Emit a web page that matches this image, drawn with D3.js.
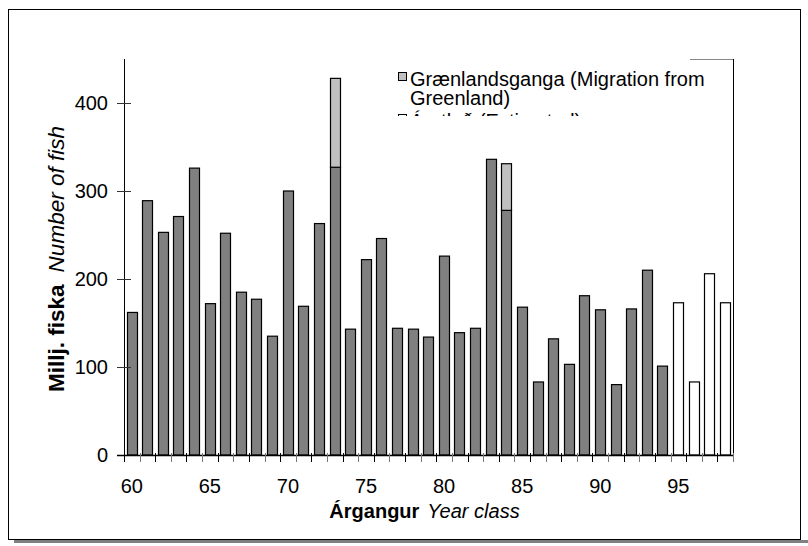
<!DOCTYPE html>
<html>
<head>
<meta charset="utf-8">
<script src="https://cdn.jsdelivr.net/npm/d3@7"></script>
<style>
  body { margin: 0; background: #fff; }
  text { font-family: Arial, "Liberation Sans", sans-serif; }
</style>
</head>
<body>
<div id="chart"></div>
<script>
const svgWidth = 808
const svgHeight = 546

// Year classes (árgangur)
const years = [60, 61, 62, 63, 64, 65, 66, 67, 68, 69, 70, 71, 72, 73, 74, 75, 76, 77, 78, 79,
  80, 81, 82, 83, 84, 85, 86, 87, 88, 89, 90, 91, 92, 93, 94, 95, 96, 97, 98]

// Millions of fish, home stock
const homeValues = [162, 289, 253, 271, 326, 172, 252, 185, 177, 135, 300, 169, 263, 327, 143, 222, 246, 144, 143, 134,
  226, 139, 144, 336, 278, 168, 83, 132, 103, 181, 165, 80, 166, 210, 101, 0, 0, 0, 0]

// Migration from Greenland, stacked on top
const greenlandValues = [0, 0, 0, 0, 0, 0, 0, 0, 0, 0, 0, 0, 0, 101, 0, 0, 0, 0, 0, 0,
  0, 0, 0, 0, 53, 0, 0, 0, 0, 0, 0, 0, 0, 0, 0, 0, 0, 0, 0]

// Estimated year classes
const estimatedValues = [0, 0, 0, 0, 0, 0, 0, 0, 0, 0, 0, 0, 0, 0, 0, 0, 0, 0, 0, 0,
  0, 0, 0, 0, 0, 0, 0, 0, 0, 0, 0, 0, 0, 0, 0, 173, 83, 206, 173]

const yTicks = [0, 100, 200, 300, 400]
const xTickLabels = [60, 65, 70, 75, 80, 85, 90, 95]

const legendItems = [
  { lines: ["Grænlandsganga (Migration from", "Greenland)"], fill: "#c0c0c0" },
  { lines: ["Áætlað (Estimated)"], fill: "#ffffff" }
]

let margin = { top: 59, left: 124, right: 75, bottom: 91 }
let width = svgWidth - margin.left - margin.right
let height = svgHeight - margin.top - margin.bottom

let svg = d3
  .select("#chart")
  .append("svg")
  .attr("width", svgWidth)
  .attr("height", svgHeight)

// outer chart frame with shadow
svg.append("rect")
  .attr("x", 14).attr("y", 540)
  .attr("width", 794).attr("height", 3)
  .attr("fill", "#808080")

svg.append("rect")
  .attr("x", 8.5).attr("y", 9.5)
  .attr("width", 792).attr("height", 530)
  .attr("fill", "none")
  .attr("stroke", "#000")

let chartGroup = svg
  .append("g")
  .attr("transform", `translate(${margin.left}, ${margin.top})`)

let x = d3.scaleBand()
  .domain(years)
  .range([0, width])
  .paddingInner(0.33)
  .paddingOuter(0.165)

let y = d3.scaleLinear()
  .domain([0, 450])
  .range([height, 0])

// plot frame (right + part of top)
chartGroup.append("line")
  .attr("x1", width + 0.5).attr("x2", width + 0.5)
  .attr("y1", 0).attr("y2", height + 7)
  .attr("stroke", "#000")

chartGroup.append("line")
  .attr("x1", width - 43).attr("x2", width)
  .attr("y1", 0.5).attr("y2", 0.5)
  .attr("stroke", "#888")

let rows = years.map((yr, i) => ({
  year: yr,
  home: homeValues[i],
  greenland: greenlandValues[i],
  estimated: estimatedValues[i]
}))

function drawBars(key, base, fill) {
  chartGroup.append("g")
    .selectAll("rect")
    .data(rows.filter(d => d[key] > 0))
    .enter()
    .append("rect")
    .attr("x", d => Math.round(x(d.year)) + 0.5)
    .attr("width", Math.round(x.bandwidth()))
    .attr("y", d => y(base(d) + d[key]))
    .attr("height", d => y(base(d)) - y(base(d) + d[key]))
    .attr("fill", fill)
    .attr("stroke", "#000")
    .attr("stroke-width", 1.2)
}

drawBars("home", d => 0, "#808080")
drawBars("greenland", d => d.home, "#c0c0c0")
drawBars("estimated", d => 0, "#ffffff")

// y axis
let leftAxis = d3.axisLeft(y)
  .tickValues(yTicks)
  .tickSize(0)
  .tickPadding(16)

let yAxis = chartGroup.append("g").call(leftAxis)
yAxis.select(".domain").remove()
yAxis.selectAll("text").attr("font-size", "20px").attr("fill", "#000")
  .attr("font-family", "Arial, 'Liberation Sans', sans-serif")

chartGroup.append("line")
  .attr("x1", 0.5).attr("x2", 0.5)
  .attr("y1", 0).attr("y2", height)
  .attr("stroke", "#000")

chartGroup.append("g")
  .selectAll("line")
  .data(yTicks)
  .enter()
  .append("line")
  .attr("x1", -7).attr("x2", 7)
  .attr("y1", d => Math.round(y(d)) + 0.5)
  .attr("y2", d => Math.round(y(d)) + 0.5)
  .attr("stroke", "#333")

// x axis
chartGroup.append("line")
  .attr("x1", -7).attr("x2", width)
  .attr("y1", height + 0.5).attr("y2", height + 0.5)
  .attr("stroke", "#000")
  .attr("stroke-width", 1.5)

let boundaries = years.map(yr => x(yr) - x.step() * x.paddingInner() / 2)
boundaries.push(width)

chartGroup.append("g")
  .selectAll("line")
  .data(boundaries)
  .enter()
  .append("line")
  .attr("x1", d => Math.round(d) + 0.5)
  .attr("x2", d => Math.round(d) + 0.5)
  .attr("y1", height - 2)
  .attr("y2", height + 7)
  .attr("stroke", (d, i) => i % 2 === 0 ? "#000" : "#777")

chartGroup.append("g")
  .selectAll("text")
  .data(xTickLabels)
  .enter()
  .append("text")
  .attr("x", d => x(d) + x.bandwidth() / 2)
  .attr("y", height + 38)
  .attr("text-anchor", "middle")
  .attr("font-size", "20px")
  .text(d => d)

// axis titles
let xTitle = chartGroup.append("text")
  .attr("x", width / 2 - 4)
  .attr("y", height + 63)
  .attr("text-anchor", "middle")
  .attr("font-size", "20px")
xTitle.append("tspan").attr("font-weight", "bold").text("Árgangur")
xTitle.append("tspan").attr("dx", 8).attr("font-style", "italic").text("Year class")

let yTitle = chartGroup.append("text")
  .attr("transform", `translate(${-60}, ${height / 2 + 2}) rotate(-90)`)
  .attr("text-anchor", "middle")
  .attr("font-size", "22.5px")
yTitle.append("tspan").attr("font-weight", "bold").text("Millj. fiska")
yTitle.append("tspan").attr("dx", 12).attr("font-style", "italic").text("Number of fish")

// legend, clipped like the original
svg.append("clipPath")
  .attr("id", "legend-clip")
  .append("rect")
  .attr("x", 380).attr("y", 60)
  .attr("width", 360).attr("height", 56)

let legend = svg.append("g")
  .attr("clip-path", "url(#legend-clip)")

let lineY = 86
legendItems.forEach((item, k) => {
  if (k > 0) lineY += 4
  legend.append("rect")
    .attr("x", 398.5).attr("y", lineY - 13.5)
    .attr("width", 8).attr("height", 8)
    .attr("fill", item.fill)
    .attr("stroke", "#000")
  item.lines.forEach(line => {
    legend.append("text")
      .attr("x", 410)
      .attr("y", lineY)
      .attr("font-size", "20px")
      .text(line)
    lineY += 19
  })
})
</script>
</body>
</html>
